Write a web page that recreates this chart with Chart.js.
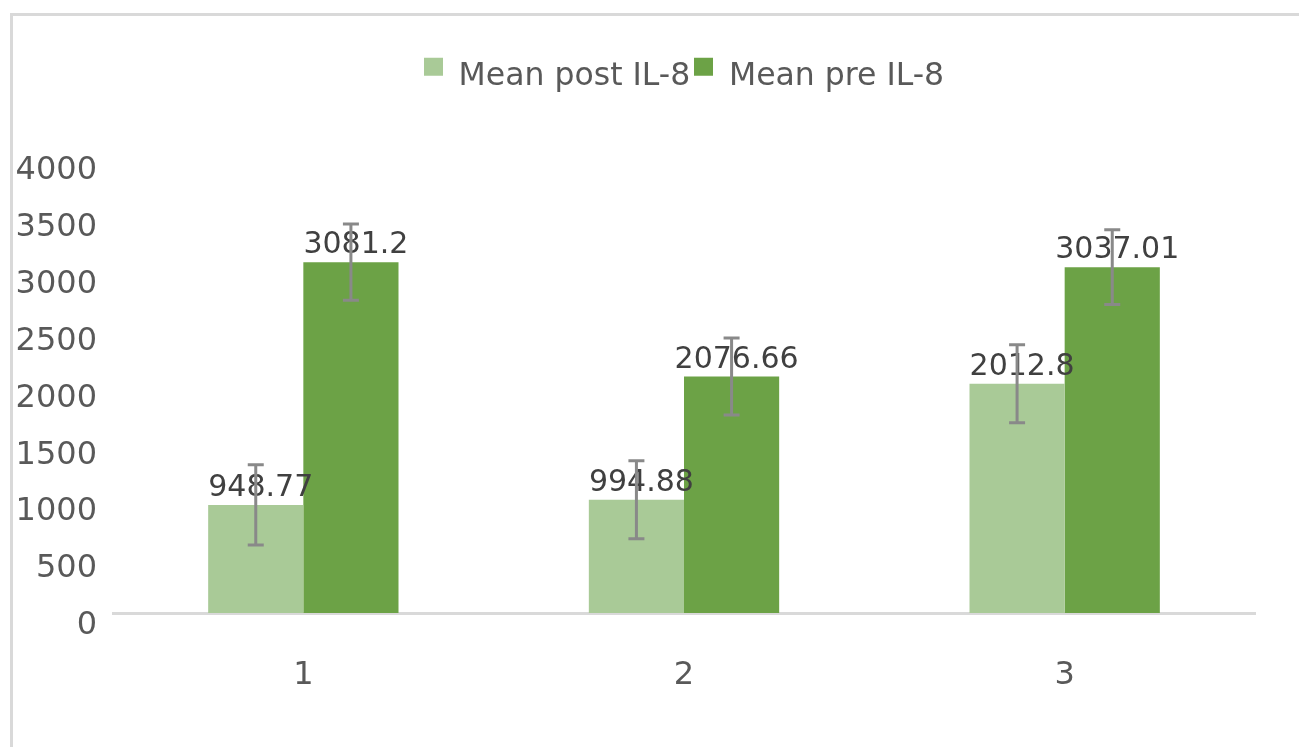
<!DOCTYPE html>
<html lang="en">
<head>
  <meta charset="UTF-8">
  <title>Mean IL-8</title>
  <script src="https://cdn.jsdelivr.net/npm/chart.js@4.4.1/dist/chart.umd.min.js"></script>
  <style>
    html, body { margin: 0; padding: 0; background: #fff; overflow: hidden; }
    #wrap { position: relative; width: 1299px; height: 747px; }
    #frame {
      position: absolute; left: 10px; top: 13px; right: 0; bottom: 0;
      border-top: 3px solid #d9d9d9; border-left: 3px solid #d9d9d9;
      pointer-events: none;
    }
  </style>
</head>
<body>
<div id="wrap">
  <canvas id="barChart" width="1299" height="747"></canvas>
  <div id="frame"></div>
</div>

<script>
  const categories = ['1', '2', '3'];
  const postValues = [948.77, 994.88, 2012.8];
  const preValues = [3081.2, 2076.66, 3037.01];
  const postErrors = [352, 343, 343];
  const preErrors = [334, 338, 328];
  const yMin = 0, yMax = 4000, yStep = 500;

  const FONT = 'DejaVu Sans';
  const TEXT = '#595959';
  const COLORS = ['#a9ca97', '#6ca246'];

  // legend swatch sits a bit above the text middle, so draw it into a taller canvas
  function swatch(color) {
    const c = document.createElement('canvas');
    c.width = 19; c.height = 40;
    const g = c.getContext('2d');
    g.fillStyle = color;
    g.fillRect(0, 1, 19, 18);
    return c;
  }
  const swatches = COLORS.map(swatch);

  // value labels first, then error bars on top of them (like the original)
  const labelsAndErrors = {
    id: 'labelsAndErrors',
    afterDatasetsDraw(chart) {
      const ctx = chart.ctx;
      const y = chart.scales.y;
      const errs = [postErrors, preErrors];
      ctx.save();
      ctx.font = '30px "' + FONT + '"';
      ctx.fillStyle = '#404040';
      ctx.textAlign = 'center';
      ctx.textBaseline = 'alphabetic';
      chart.data.datasets.forEach((ds, i) => {
        chart.getDatasetMeta(i).data.forEach((bar, j) => {
          ctx.fillText(String(ds.data[j]), bar.x + 5, bar.y - 9);
        });
      });
      ctx.strokeStyle = '#898989';
      ctx.lineWidth = 3;
      chart.data.datasets.forEach((ds, i) => {
        chart.getDatasetMeta(i).data.forEach((bar, j) => {
          const top = y.getPixelForValue(ds.data[j] + errs[i][j]);
          const bot = y.getPixelForValue(ds.data[j] - errs[i][j]);
          ctx.beginPath();
          ctx.moveTo(bar.x, top); ctx.lineTo(bar.x, bot);
          ctx.moveTo(bar.x - 8, top); ctx.lineTo(bar.x + 8, top);
          ctx.moveTo(bar.x - 8, bot); ctx.lineTo(bar.x + 8, bot);
          ctx.stroke();
        });
      });
      ctx.restore();
    }
  };

  Chart.defaults.font.family = FONT;

  new Chart(document.getElementById('barChart').getContext('2d'), {
    type: 'bar',
    data: {
      labels: categories,
      datasets: [{
        label: 'Mean post IL-8',
        data: postValues,
        backgroundColor: COLORS[0],
        borderWidth: 0
      }, {
        label: 'Mean pre IL-8',
        data: preValues,
        backgroundColor: COLORS[1],
        borderWidth: 0
      }]
    },
    options: {
      responsive: false,
      animation: false,
      datasets: { bar: { barPercentage: 1, categoryPercentage: 0.5 } },
      layout: { padding: { top: 57, right: 44, left: 0, bottom: 0 } },
      plugins: {
        legend: {
          position: 'top',
          fullSize: false,
          labels: {
            usePointStyle: true,
            boxWidth: 19, boxHeight: 18, padding: 4,
            color: TEXT, font: { family: FONT, size: 31.5 },
            generateLabels: chart =>
              Chart.defaults.plugins.legend.labels.generateLabels(chart)
                .map((l, i) => Object.assign(l, { pointStyle: swatches[i] }))
          }
        },
        subtitle: {
          display: true, text: ' ', position: 'top', weight: 500,
          fullSize: false, padding: { top: 20, bottom: 23 }, font: { size: 10 }
        },
        tooltip: { enabled: false }
      },
      scales: {
        x: {
          grid: { display: false, drawTicks: false },
          border: { display: true, color: '#d9d9d9', width: 3 },
          ticks: { color: TEXT, font: { family: FONT, size: 32 }, padding: 43 },
          afterFit: s => { s.height = 134; }
        },
        y: {
          min: yMin, max: yMax,
          grid: { display: false, drawTicks: false },
          border: { display: false },
          ticks: {
            stepSize: yStep, padding: 16, labelOffset: 13,
            color: TEXT, font: { family: FONT, size: 32 },
            callback: v => String(v)
          },
          afterFit: s => { s.width = 113; }
        }
      }
    },
    plugins: [labelsAndErrors]
  });
</script>
</body>
</html>
